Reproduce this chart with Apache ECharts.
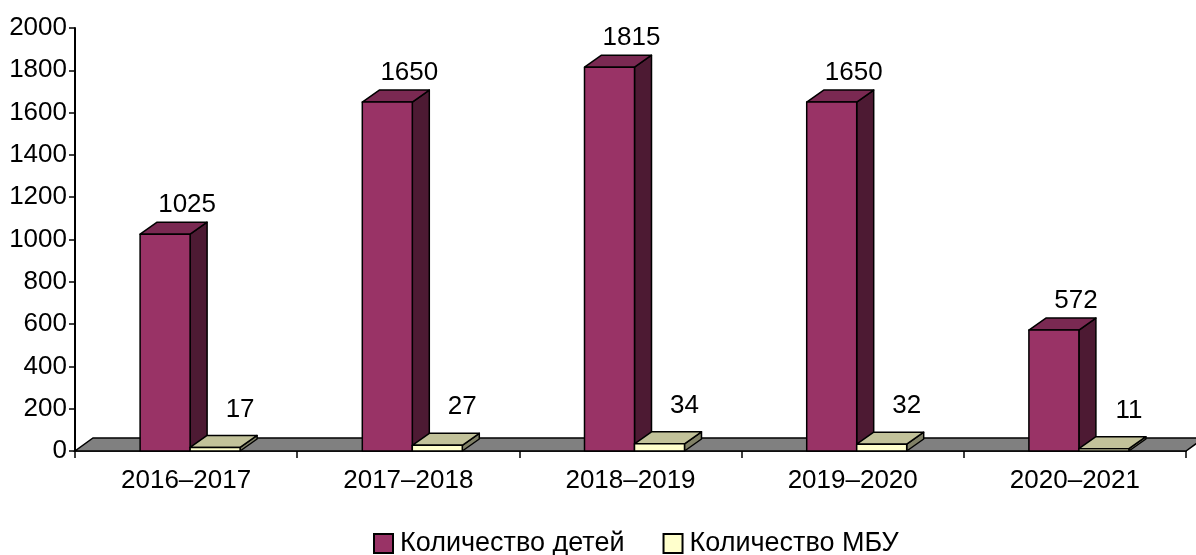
<!DOCTYPE html>
<html>
<head>
<meta charset="utf-8">
<script src="https://cdn.jsdelivr.net/npm/echarts@6/dist/echarts.min.js"></script>
<style>
  html, body { margin: 0; padding: 0; background: #fff; }
  #chart { width: 1196px; height: 555px; }
</style>
</head>
<body>
<div id="chart"></div>
<script>
var categories = ['2016–2017', '2017–2018', '2018–2019', '2019–2020', '2020–2021'];
var childrenCounts = [1025, 1650, 1815, 1650, 572];
var mbuCounts = [17, 27, 34, 32, 11];

var FONT = '"Liberation Sans", Arial, sans-serif';
var DX = 17, DY = -12;

function barRenderer(colors, shift, labelDx, labelDy) {
    return function (params, api) {
        var cat = api.value(0);
        var val = api.value(1);
        var base = api.coord([cat, 0]);
        var top = api.coord([cat, val]);
        var band = api.size([1, 0])[0];
        var w = band * 0.225;
        var x0 = base[0] + band * shift;
        var x1 = x0 + w;
        var yb = base[1];
        var yt = top[1];
        var line = { stroke: '#000', lineWidth: 1.5, lineJoin: 'round' };
        return {
            type: 'group',
            children: [
                {
                    type: 'polygon',
                    shape: { points: [[x1, yb], [x1 + DX, yb + DY], [x1 + DX, yt + DY], [x1, yt]] },
                    style: Object.assign({ fill: colors[2] }, line)
                },
                {
                    type: 'polygon',
                    shape: { points: [[x0, yt], [x1, yt], [x1 + DX, yt + DY], [x0 + DX, yt + DY]] },
                    style: Object.assign({ fill: colors[1] }, line)
                },
                {
                    type: 'rect',
                    shape: { x: x0, y: yt, width: w, height: yb - yt },
                    style: Object.assign({ fill: colors[0] }, line)
                },
                {
                    type: 'text',
                    x: (x0 + x1) / 2 + labelDx,
                    y: yt + labelDy,
                    style: {
                        text: String(val),
                        fill: '#000',
                        font: '26px ' + FONT,
                        align: 'center',
                        verticalAlign: 'middle'
                    }
                }
            ]
        };
    };
}

function floorRenderer(params, api) {
    var cs = params.coordSys;
    var yb = cs.y + cs.height;
    var x0 = cs.x, x1 = cs.x + cs.width;
    return {
        type: 'polygon',
        shape: { points: [[x0, yb], [x1, yb], [x1 + 18, yb - 13], [x0 + 18, yb - 13]] },
        style: { fill: '#808080', stroke: '#000', lineWidth: 1.5 }
    };
}

var chart = echarts.init(document.getElementById('chart'));
var option = {
    animation: false,
    textStyle: { fontFamily: FONT },
    grid: { left: 75, right: 10, top: 28, bottom: 104 },
    legend: {
        left: 373,
        top: 530,
        padding: 0,
        itemWidth: 19,
        itemHeight: 19,
        itemGap: 38,
        textStyle: { fontSize: 27, color: '#000', fontFamily: FONT, padding: [0, 0, 0, 2] },
        data: [
            { name: 'Количество детей', icon: 'rect', itemStyle: { color: '#993366', borderColor: '#000', borderWidth: 2 } },
            { name: 'Количество МБУ', icon: 'rect', itemStyle: { color: '#FFFFCC', borderColor: '#000', borderWidth: 2 } }
        ]
    },
    xAxis: {
        type: 'category',
        data: categories,
        boundaryGap: true,
        axisLine: { show: true, lineStyle: { color: '#000', width: 1.5 } },
        axisTick: { show: true, length: 7, lineStyle: { color: '#000', width: 1.5 } },
        axisLabel: { color: '#000', fontSize: 26, margin: 17, fontFamily: FONT },
        splitLine: { show: false }
    },
    yAxis: {
        type: 'value',
        min: 0,
        max: 2000,
        interval: 200,
        axisLine: { show: true, lineStyle: { color: '#000', width: 2 } },
        axisTick: { show: true, length: 6, lineStyle: { color: '#000', width: 1.5 } },
        axisLabel: {
            color: '#000', fontSize: 26, margin: 8, fontFamily: FONT,
            formatter: function (v) { return String(v); }
        },
        splitLine: { show: false }
    },
    series: [
        {
            name: 'floor',
            type: 'custom',
            z: 1,
            silent: true,
            renderItem: floorRenderer,
            data: [[0, 0]]
        },
        {
            name: 'Количество детей',
            type: 'custom',
            z: 3,
            itemStyle: { color: '#993366' },
            renderItem: barRenderer(['#993366', '#7A2952', '#4D1A33'], -0.207, 22, -29),
            data: childrenCounts.map(function (v, i) { return [i, v]; })
        },
        {
            name: 'Количество МБУ',
            type: 'custom',
            z: 4,
            itemStyle: { color: '#FFFFCC' },
            renderItem: barRenderer(['#FFFFCC', '#C2C29A', '#808066'], 0.018, 25, -38),
            data: mbuCounts.map(function (v, i) { return [i, v]; })
        }
    ]
};
chart.setOption(option);
window.addEventListener('resize', function () { chart.resize(); });
</script>
</body>
</html>
